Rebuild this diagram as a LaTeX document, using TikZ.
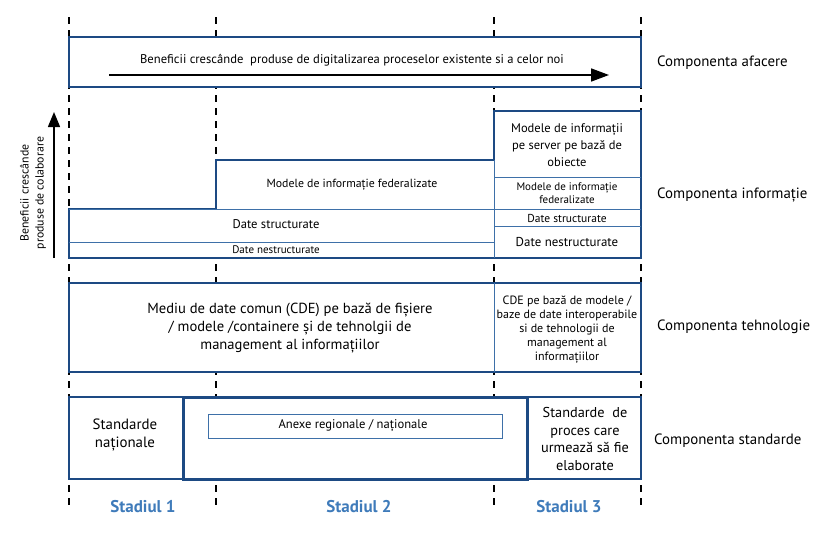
\documentclass[tikz,border=0pt]{standalone}
\usepackage{fontspec}
\setmainfont{PT Sans}
\usepackage{xcolor}
\usepackage{tikz}
\usetikzlibrary{positioning,arrows.meta}

\definecolor{bimblue}{HTML}{1D4A83}
\definecolor{bimthin}{HTML}{3E70A8}
\definecolor{stageblue}{HTML}{3F7BBA}

\begin{document}
\begin{tikzpicture}[x=1pt, y=-1pt,
    bim box/.style={draw=bimblue, line width=1.4pt, fill=white},
    bim thin/.style={draw=bimthin, line width=0.7pt},
    bim stage/.style={draw=black, line width=1.3pt, dash pattern=on 7pt off 6pt},
    bim text/.style={align=center, inner sep=0pt, font=\fontsize{12.6}{14}\selectfont},
    bim label/.style={anchor=west, inner sep=0pt, font=\fontsize{14.9}{17}\selectfont},
    bim stadiu/.style={inner sep=0pt, text=stageblue, font=\bfseries\fontsize{17}{19}\selectfont},
    bim arrow/.style={-{Triangle[length=18pt,width=13pt]}, line width=1.6pt}]

    \useasboundingbox (0,0) rectangle (830,541);

    % stage limits
    \draw [bim stage] (69,17) -- (69,505);
    \draw [bim stage] (216,17) -- (216,505);
    \draw [bim stage] (494,17) -- (494,505);
    \draw [bim stage] (641,17) -- (641,505);

    % business component
    \draw [bim box] (69,37) rectangle (641,87);
    \node [bim text] (afacere) at (352,60) {Beneficii crescânde~ produse de digitalizarea proceselor existente si a celor noi};
    \coordinate (afacere start) at (109,75);
    \coordinate (afacere end) at (609,75);
    \draw [bim arrow] (afacere start) -- (afacere end);

    % information component
    \draw [bim box] (69,258) -- (69,209) -- (216,209) -- (216,160) -- (494,160)
        -- (494,111) -- (641,111) -- (641,258) -- cycle;
    \draw [bim thin] (69,209) -- (641,209);
    \draw [bim thin] (69,242) -- (494,242);
    \draw [bim thin] (494,160) -- (494,258);
    \draw [bim thin] (494,177) -- (641,177);
    \draw [bim thin] (494,226) -- (641,226);
    \node [bim text, font=\fontsize{11.8}{14}\selectfont] (federal) at (352,185) {Modele de informație federalizate};
    \node [bim text] (structurate) at (276,224) {Date structurate};
    \node [bim text, font=\fontsize{11}{12}\selectfont] (nestructurate) at (276,250) {Date nestructurate};
    \node [bim text, font=\fontsize{12.5}{17}\selectfont] (obiecte) at (567,145) {Modele de informații\\pe server pe bază de\\obiecte};
    \node [bim text, font=\fontsize{11}{13}\selectfont] (federal s3) at (567,193) {Modele de informație\\federalizate};
    \node [bim text, font=\fontsize{11.5}{12}\selectfont] (structurate s3) at (567,218) {Date structurate};
    \node [bim text, font=\fontsize{12.9}{14}\selectfont] (nestructurate s3) at (567,242) {Date nestructurate};

    % collaboration axis
    \coordinate (colab start) at (54,258);
    \coordinate (colab end) at (54,112);
    \draw [-{Triangle[length=15pt,width=12pt]}, line width=1.5pt] (colab start) -- (colab end);
    \node [bim text, rotate=90, font=\fontsize{11.8}{15}\selectfont] (colaborare) at (33,193) {Beneficii crescânde\\produse de colaborare};

    % technology component
    \draw [bim box] (69,283) rectangle (641,372);
    \draw [bim thin] (494,283) -- (494,372);
    \node [bim text, font=\fontsize{14.6}{18}\selectfont] (cde) at (290,328) {Mediu de date comun (CDE) pe bază de fișiere\\/ modele /containere și de tehnolgii de\\management al informațiilor};
    \node [bim text, font=\fontsize{12}{14}\selectfont] (cde s3) at (567,330) {CDE pe bază de modele /\\baze de date interoperabile\\si de tehnologii de\\management al\\informațiilor};

    % standards component
    \draw [bim box] (69,397) rectangle (641,479);
    \draw [draw=bimblue, line width=3pt] (183,397) rectangle (527,479);
    \draw [bim thin] (208,414) rectangle (502,438);
    \node [bim text, font=\fontsize{14.9}{18}\selectfont] (nationale) at (125,435) {Standarde\\naționale};
    \node [bim text] (anexe) at (353,426) {Anexe regionale / naționale};
    \node [bim text, font=\fontsize{14.3}{17.6}\selectfont] (proces) at (585,439) {Standarde~ de\\proces care\\urmează să fie\\elaborate};

    % component labels
    \node [bim label] (lbl afacere) at (657,63) {Componenta afacere};
    \node [bim label] (lbl informatie) at (657,195) {Componenta informație};
    \node [bim label] (lbl tehnologie) at (657,327) {Componenta tehnologie};
    \node [bim label] (lbl standarde) at (654,441) {Componenta standarde};

    % stages
    \node [bim stadiu] (stadiu1) at (143,507) {Stadiul 1};
    \node [bim stadiu] (stadiu2) at (359,507) {Stadiul 2};
    \node [bim stadiu] (stadiu3) at (569,507) {Stadiul 3};

\end{tikzpicture}
\end{document}
